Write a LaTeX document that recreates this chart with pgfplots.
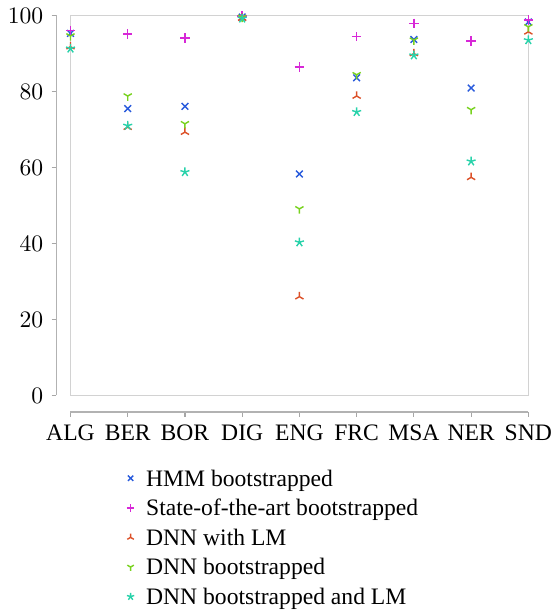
\documentclass[border=0pt]{standalone}
\usepackage{fontspec}
\setmainfont{Liberation Serif}
\usepackage{pgfplots}
\pgfplotsset{compat=1.18}
\usetikzlibrary{plotmarks}

\definecolor{cblue}{RGB}{40,90,220}
\definecolor{cmag}{RGB}{215,40,215}
\definecolor{cred}{RGB}{220,80,40}
\definecolor{cgreen}{RGB}{120,210,30}
\definecolor{ccyan}{RGB}{40,210,170}

\begin{document}
\begin{tikzpicture}
\begin{axis}[
    scale only axis,
    width=194pt, height=161pt,
    xmin=0, xmax=8, ymin=0, ymax=100,
    clip=false,
    axis x line*=bottom, axis y line*=left,
    axis x line shift=7pt, axis y line shift=6pt,
    axis line style={-, gray!60, line width=0.6pt},
    tick align=outside, major tick length=2pt,
    tick style={gray!70, line width=0.5pt},
    xtick={0,1,2,3,4,5,6,7,8},
    xticklabels={ALG,BER,BOR,DIG,ENG,FRC,MSA,NER,SND},
    ytick={0,20,40,60,80,100},
    every axis plot/.append style={only marks, mark size=2pt, line width=0.6pt},
    legend style={at={(0.123,-0.195)}, anchor=north west, draw=none, fill=none,
                  inner sep=0pt, outer sep=0pt,
                  nodes={inner xsep=2pt, inner ysep=0pt, text height=7pt, text depth=2.3pt},
                  row sep=3.25pt,
                  font=\normalsize, column sep=3pt},
    legend image post style={mark size=1.6pt, yshift=1pt},
    legend cell align=left,
]
\draw[gray!35, line width=0.6pt] (rel axis cs:0,0) rectangle (rel axis cs:1,1);

% HMM bootstrapped
\addplot[draw=cblue, mark=x, mark options={draw=cblue}] coordinates {
(0,95.3) (1,75.5) (2,76.1) (3,99.6) (4,58.3) (5,83.6) (6,93.7) (7,80.9) (8,98.3)};
% State-of-the-art bootstrapped
\addplot[draw=cmag, mark=+, mark options={draw=cmag}] coordinates {
(0,96.0) (1,95.1) (2,94.1) (3,99.9) (4,86.4) (5,94.4) (6,97.9) (7,93.3) (8,98.8)};
% DNN with LM
\addplot[draw=cred, mark=Mercedes star, mark options={draw=cred}] coordinates {
(0,91.8) (1,70.6) (2,69.3) (3,99.3) (4,26.0) (5,78.8) (6,90.0) (7,57.4) (8,95.7)};
% DNN bootstrapped
\addplot[draw=cgreen, mark=Mercedes star flipped, mark options={draw=cgreen}] coordinates {
(0,94.6) (1,78.8) (2,71.5) (3,99.5) (4,49.1) (5,84.4) (6,93.5) (7,75.2) (8,97.0)};
% DNN bootstrapped and LM
\addplot[draw=ccyan, mark=star, mark options={draw=ccyan}] coordinates {
(0,91.3) (1,71.0) (2,58.8) (3,99.2) (4,40.3) (5,74.6) (6,89.5) (7,61.6) (8,93.5)};

\legend{HMM bootstrapped, State-of-the-art bootstrapped, DNN with LM,
        DNN bootstrapped, DNN bootstrapped and LM}
\end{axis}
\end{tikzpicture}
\end{document}
